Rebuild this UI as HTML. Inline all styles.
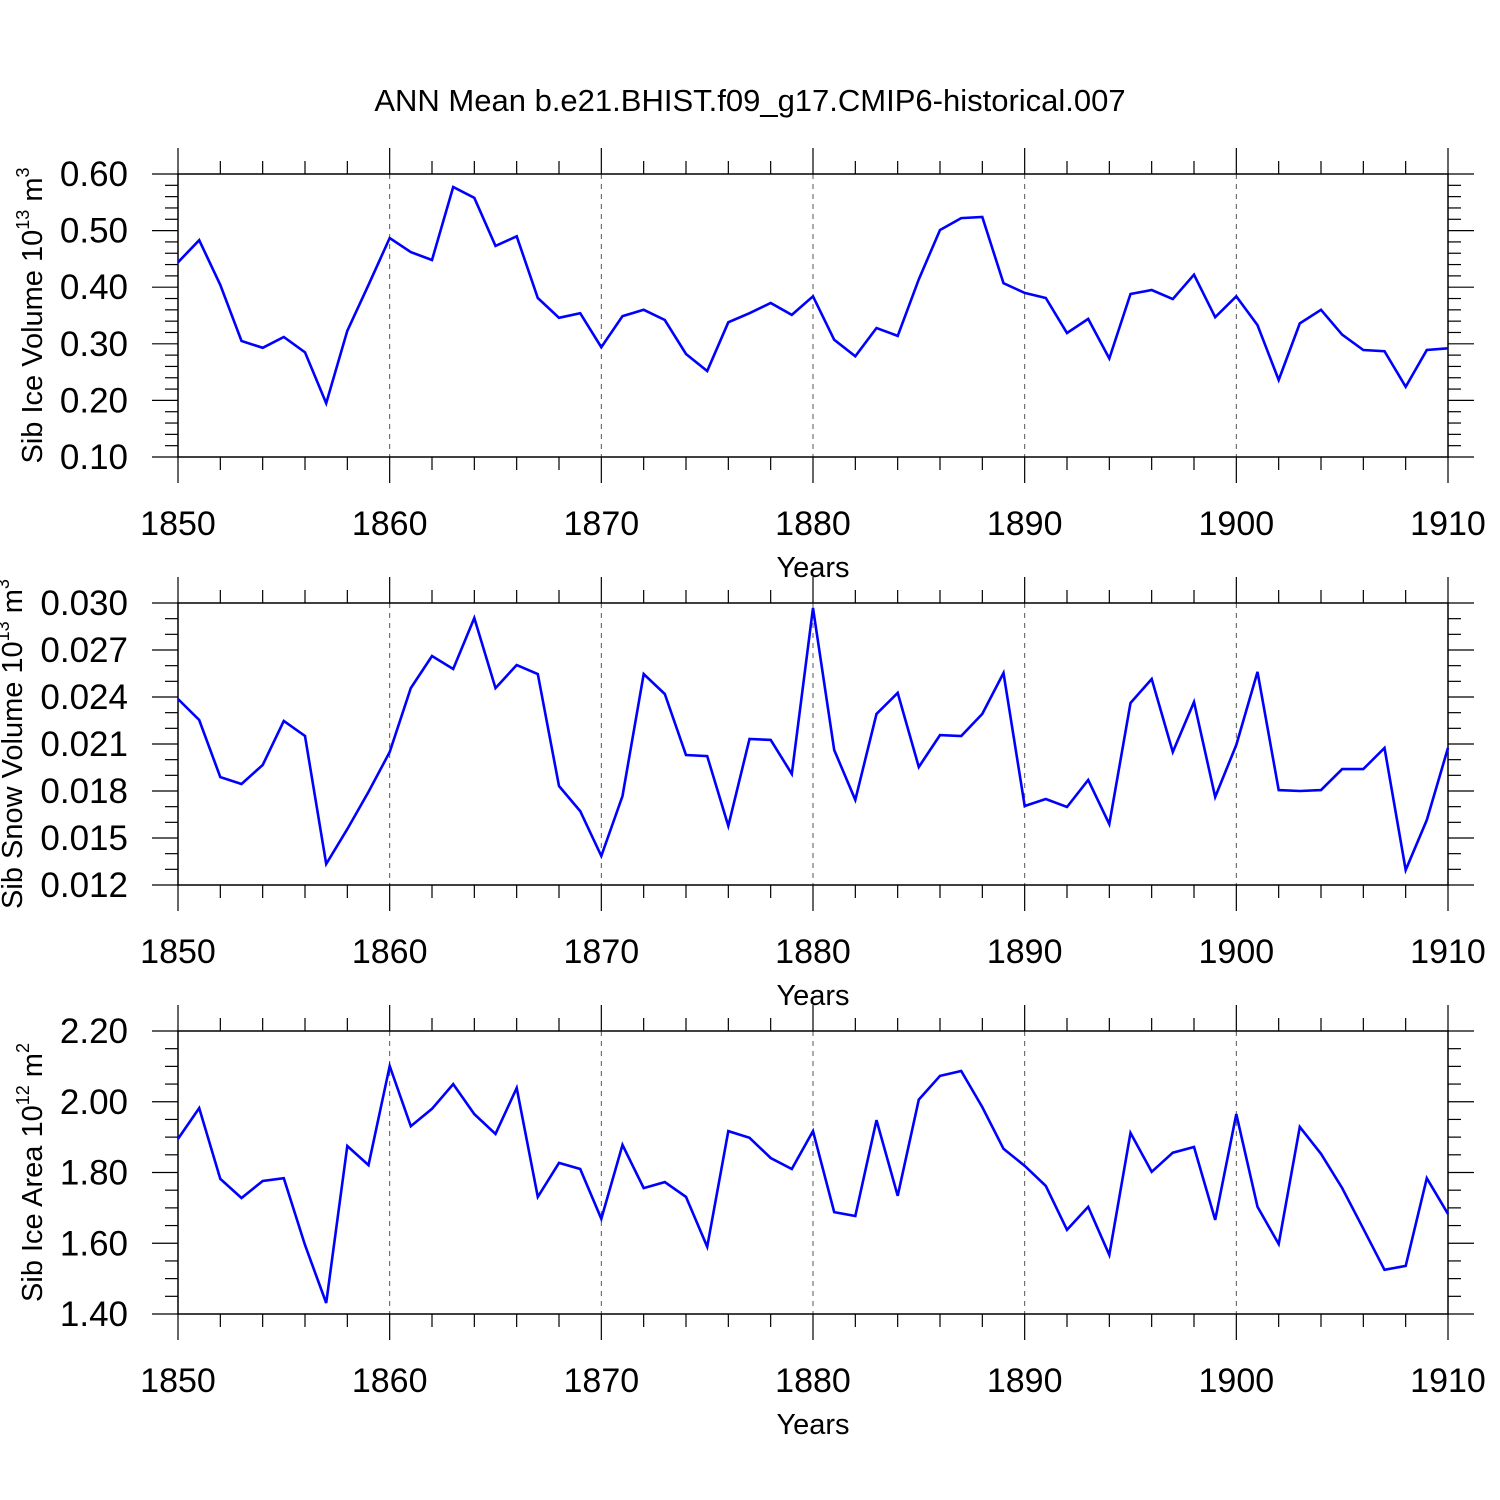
<!DOCTYPE html>
<html><head><meta charset="utf-8"><style>
html,body{margin:0;padding:0;background:#fff}
svg{display:block;font-family:"Liberation Sans",Arial,sans-serif}
</style></head><body>
<svg id="chart" width="1500" height="1500" viewBox="0 0 1500 1500" xmlns="http://www.w3.org/2000/svg">
<rect width="1500" height="1500" fill="#fff"/>
<text x="750" y="111" font-size="31" text-anchor="middle">ANN Mean b.e21.BHIST.f09_g17.CMIP6-historical.007</text>
</svg>
<script>
const years = [];
for (let y = 1850; y <= 1910; y++) years.push(y);
const iceVolume = [0.444,0.483,0.404,0.305,0.293,0.312,0.285,0.195,0.323,0.404,0.487,0.462,0.448,0.577,0.558,0.473,0.490,0.381,0.346,0.354,0.294,0.349,0.360,0.342,0.282,0.252,0.338,0.354,0.372,0.351,0.384,0.307,0.278,0.328,0.314,0.414,0.501,0.522,0.524,0.407,0.390,0.381,0.319,0.344,0.274,0.388,0.395,0.379,0.422,0.347,0.384,0.333,0.236,0.336,0.360,0.316,0.289,0.287,0.224,0.289,0.292];
const snowVolume = [0.02387,0.02253,0.01889,0.01845,0.01966,0.02247,0.02151,0.01334,0.01557,0.01794,0.02049,0.02457,0.02662,0.02579,0.02904,0.02457,0.02604,0.02547,0.01832,0.01672,0.01385,0.01768,0.02547,0.02419,0.02030,0.02023,0.01577,0.02132,0.02126,0.01909,0.02968,0.02062,0.01743,0.02292,0.02426,0.01953,0.02157,0.02151,0.02292,0.02553,0.01704,0.01749,0.01698,0.01870,0.01589,0.02362,0.02515,0.02049,0.02368,0.01762,0.02094,0.02560,0.01806,0.01800,0.01806,0.01940,0.01940,0.02075,0.01296,0.01615,0.02075];
const iceArea = [1.895,1.982,1.782,1.728,1.776,1.784,1.595,1.431,1.875,1.821,2.101,1.931,1.980,2.050,1.965,1.909,2.039,1.731,1.827,1.810,1.669,1.878,1.756,1.773,1.731,1.590,1.917,1.898,1.841,1.810,1.917,1.688,1.677,1.948,1.734,2.006,2.073,2.087,1.985,1.867,1.819,1.762,1.638,1.703,1.567,1.912,1.802,1.856,1.872,1.666,1.965,1.703,1.598,1.929,1.853,1.756,1.641,1.525,1.536,1.784,1.683];
const xTicks = [1850,1860,1870,1880,1890,1900,1910];
const ticks1 = ["0.10","0.20","0.30","0.40","0.50","0.60"];
const ticks2 = ["0.012","0.015","0.018","0.021","0.024","0.027","0.030"];
const ticks3 = ["1.40","1.60","1.80","2.00","2.20"];

const NS = "http://www.w3.org/2000/svg";
const svg = document.getElementById('chart');
function mk(tag, attrs, parent){ const e=document.createElementNS(NS,tag); for(const k in attrs) e.setAttribute(k,attrs[k]); (parent||svg).appendChild(e); return e; }

const X0=178, X1=1448;
function xs(y){ return X0+(y-1850)/60*(X1-X0); }

const panels = [
 {top:174,bot:457,min:0.10,max:0.60,minor:0.02,ticks:ticks1,data:iceVolume,title:"Sib Ice Volume 10",sup:"13",unit:" m",sup2:"3",name:"ice-volume",tx:42},
 {top:603,bot:885,min:0.012,max:0.030,minor:0.001,ticks:ticks2,data:snowVolume,title:"Sib Snow Volume 10",sup:"13",unit:" m",sup2:"3",name:"snow-volume",tx:22},
 {top:1031,bot:1314,min:1.40,max:2.20,minor:0.05,ticks:ticks3,data:iceArea,title:"Sib Ice Area 10",sup:"12",unit:" m",sup2:"2",name:"ice-area",tx:42}
];

panels.forEach(p=>{
  const g = mk('g',{});
  
  
  const ys = v => p.bot-(v-p.min)/(p.max-p.min)*(p.bot-p.top);
  xTicks.slice(1,-1).forEach(t=>{
    const l=mk('line',{x1:xs(t),x2:xs(t),y1:p.top,y2:p.bot,stroke:'#555','stroke-width':1,'stroke-dasharray':'5,5'},g);
    
    
  });
  const fr=mk('rect',{x:X0,y:p.top,width:X1-X0,height:p.bot-p.top,fill:'none',stroke:'#000','stroke-width':1.5},g);
  
  
  for(let y=1850;y<=1910;y+=2){
    const major = (y-1850)%10===0;
    const L = major?26:13;
    mk('line',{x1:xs(y),x2:xs(y),y1:p.top-L,y2:p.top,stroke:'#000','stroke-width':1.2},g);
    mk('line',{x1:xs(y),x2:xs(y),y1:p.bot,y2:p.bot+L,stroke:'#000','stroke-width':1.2},g);
  }
  xTicks.forEach(t=>{
    const tx=mk('text',{x:xs(t),y:p.bot+78,'font-size':34,'text-anchor':'middle'},g);
    tx.textContent=t;
    
    
  });
  const xt=mk('text',{x:813,y:p.bot+120,'font-size':29,'text-anchor':'middle'},g);
  xt.textContent='Years';
  
  
  const n=Math.round((p.max-p.min)/p.minor);
  const perMajor=Math.round((p.max-p.min)/(p.ticks.length-1)/p.minor);
  for(let i=0;i<=n;i++){
    const v=p.min+i*p.minor, yy=ys(v), major=i%perMajor===0, L=major?26:13;
    mk('line',{x1:X0-L,x2:X0,y1:yy,y2:yy,stroke:'#000','stroke-width':1.2},g);
    mk('line',{x1:X1,x2:X1+L,y1:yy,y2:yy,stroke:'#000','stroke-width':1.2},g);
  }
  p.ticks.forEach(t=>{
    const tx=mk('text',{x:128,y:ys(parseFloat(t))+12,'font-size':35,'text-anchor':'end'},g);
    tx.textContent=t;
    
    
  });
  const cy=(p.top+p.bot)/2;
  const yt=mk('text',{x:0,y:0,'font-size':29,'text-anchor':'middle',transform:`translate(${p.tx},${cy}) rotate(-90)`},g);
  
  
  yt.innerHTML = `${p.title}<tspan font-size="18" dy="-13">${p.sup}</tspan><tspan dy="13">${p.unit}</tspan><tspan font-size="18" dy="-13">${p.sup2}</tspan>`;
  const pts=p.data.map((v,i)=>xs(years[i]).toFixed(1)+','+ys(v).toFixed(1)).join(' ');
  const pl=mk('polyline',{points:pts,fill:'none',stroke:'#0000ff','stroke-width':2.6,'stroke-linejoin':'miter'},g);
  
  
});
</script>
</body></html>
